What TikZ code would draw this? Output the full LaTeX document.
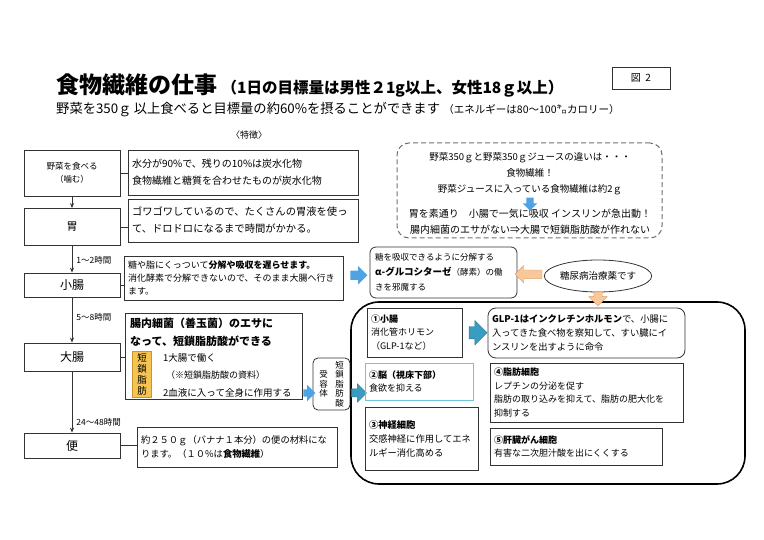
\documentclass[tikz,border=0pt]{standalone}
\usepackage{fontspec}
\setmainfont{Noto Sans CJK JP}
\usetikzlibrary{positioning,arrows.meta,calc,shapes.geometric,shapes.arrows}
\definecolor{boxline}{HTML}{333333}
\definecolor{skyarrow}{HTML}{4FA3E3}
\definecolor{tealarrow}{HTML}{3B9CC2}
\definecolor{tealline}{HTML}{2D7A98}
\definecolor{orangefill}{HTML}{F8C79A}
\definecolor{orangeline}{HTML}{E29A5D}
\definecolor{gold}{HTML}{F5C451}
\definecolor{goldline}{HTML}{C8962A}
\definecolor{brainline}{HTML}{6FC6DA}
\definecolor{dashline}{HTML}{707070}

\begin{document}
\begin{tikzpicture}[x=1pt,y=-1pt,
  box/.style={draw=boxline,line width=0.8pt,inner sep=0pt},
  stage/.style={box,minimum width=96pt,align=center},
  note/.style={box,align=left,inner xsep=4pt,inner ysep=0pt},
  flow/.style={draw=boxline,line width=0.8pt,-{Stealth[length=5pt,width=4pt]}},
  link/.style={draw=boxline,line width=0.8pt},
  time/.style={right,inner xsep=4pt,font=\fontsize{8.5}{8.5}\selectfont},
  fatarrow/.style={single arrow,inner xsep=0pt,inner ysep=4.5pt,single arrow head extend=4.5pt},
  small/.style={font=\fontsize{9}{13.5}\selectfont}]
\useasboundingbox (0,0) rectangle (764,540);
% Title
\node[anchor=west,inner sep=0pt,font=\bfseries\fontsize{23}{23}\selectfont] (title) at (56,85) {食物繊維の仕事};
\node[anchor=base west,inner sep=0pt,font=\bfseries\fontsize{15.5}{15.5}\selectfont] (titlenote) at ([xshift=4pt]title.base east) {（1日の目標量は男性２1g以上、女性18ｇ以上）};
\node[box,minimum width=58pt,minimum height=22pt,font=\fontsize{10}{10}\selectfont] (fig) at (641,78) {図\ \ 2};
\node[anchor=west,inner sep=0pt,font=\fontsize{13.3}{13.3}\selectfont] (sub) at (56,110) {野菜を350ｇ\,以上食べると目標量の約60\%を摂ることができます};
\node[anchor=base west,inner sep=0pt,font=\fontsize{10.5}{10.5}\selectfont] (subnote) at ([xshift=3pt]sub.base east) {（エネルギーは80～100㌔カロリー）};
\node[font=\fontsize{9}{9}\selectfont] (feature) at (249,135) {〈特徴〉};

% Digestion stages
\node[stage,minimum height=46pt,font=\fontsize{8.5}{12.5}\selectfont] (eat) at (72,173) {野菜を食べる\\（噛む）};
\node[stage,minimum height=37pt,font=\fontsize{11}{11}\selectfont] (stomach) at (72,227) {胃};
\node[stage,minimum height=24pt,font=\fontsize{12}{12}\selectfont] (smallint) at (72,285) {小腸};
\node[stage,minimum height=28pt,font=\fontsize{12}{12}\selectfont] (largeint) at (72,357) {大腸};
\node[stage,minimum height=25pt,font=\fontsize{12}{12}\selectfont] (stool) at (72,445.5) {便};
\draw[flow] (eat) -- (stomach);
\draw[flow] (stomach) -- node[time,pos=0.55] (t1) {1～2時間} (smallint);
\draw[flow] (smallint) -- node[time,pos=0.45] (t2) {5～8時間} (largeint);
\draw[flow] (largeint) -- node[time,pos=0.83] (t3) {24～48時間} (stool);

% Features
\node[note,text width=222pt,minimum height=45pt,font=\fontsize{10}{17}\selectfont] (feat) at (243,172.5)
  {水分が90\%で、残りの10\%は炭水化物\\食物繊維と糖質を合わせたものが炭水化物};
\node[note,text width=222pt,minimum height=43pt,font=\fontsize{10.3}{17}\selectfont] (gastric) at (243,220.5)
  {ゴワゴワしているので、たくさんの胃液を使っ\\て、ドロドロになるまで時間がかかる。};
\node[note,text width=211pt,minimum height=44pt,font=\fontsize{9}{13}\selectfont] (slow) at (233.5,278)
  {糖や脂にくっついて\textbf{分解や吸収を遅らせます。}\\消化酵素で分解できないので、そのまま大腸へ行き\\ます。};
\node[box,minimum width=177pt,minimum height=86pt] (colon) at (213.5,356) {};
\node[anchor=north west,align=left,inner sep=0pt,font=\bfseries\fontsize{11}{18}\selectfont] (colontitle) at (130,318)
  {腸内細菌（善玉菌）のエサに\\なって、短鎖脂肪酸ができる};
\node[draw=goldline,fill=gold,minimum width=19pt,minimum height=46pt,inner sep=0pt,align=center,
  font=\fontsize{9.5}{11}\selectfont] (scfa) at (142,374) {短\\鎖\\脂\\肪};
\node[anchor=west,inner sep=0pt,font=\fontsize{9.5}{9.5}\selectfont] (role1) at (163,358) {1大腸で働く};
\node[anchor=west,inner sep=0pt,font=\fontsize{9}{9}\selectfont] (role0) at (166,375) {（※短鎖脂肪酸の資料）};
\node[anchor=west,inner sep=0pt,font=\fontsize{9.5}{9.5}\selectfont] (role2) at (163,393) {2血液に入って全身に作用する};
\node[note,text width=192pt,minimum height=40pt,font=\fontsize{9.3}{14}\selectfont] (bulk) at (237,447)
  {約２５０ｇ（バナナ１本分）の便の材料にな\\ります。（１０\%は\textbf{食物繊維}）};
\draw[link] (eat.east) -- (eat.east -| feat.west);
\draw[link] (stomach.east) -- (stomach.east -| gastric.west);
\draw[link] (smallint.east) -- (smallint.east -| slow.west);
\draw[link] (largeint.east) -- (largeint.east -| colon.west);
\draw[link] (stool.east) -- (stool.east -| bulk.west);

% Juice comparison
\node[draw=dashline,dash pattern=on 5pt off 3pt,line width=1pt,rounded corners=12pt,minimum width=265pt,minimum height=95pt] (juice) at (529.5,190.5) {};
\node[align=center,inner sep=0pt,font=\fontsize{9.5}{16}\selectfont] (juicetop) at (530,174)
  {野菜350ｇと野菜350ｇジュースの違いは・・・\\食物繊維！\\野菜ジュースに入っている食物繊維は約2ｇ};
\node[align=center,inner sep=0pt,font=\fontsize{10}{16}\selectfont] (juicebot) at (530,222)
  {胃を素通り　小腸で一気に吸収 インスリンが急出動！\\腸内細菌のエサがない⇒大腸で短鎖脂肪酸が作れない};
\node[fatarrow,fill=skyarrow,rotate=-90,minimum height=13pt,inner ysep=3.5pt,single arrow head extend=3.5pt]
  (juicearrow) at ($(juicetop.south)!0.5!(juicebot.north)$) {};

% Medicine
\node[box,rounded corners=6pt,minimum width=147pt,minimum height=51pt] (sugar) at (443.5,272.5) {};
\node[anchor=west,align=left,inner sep=0pt,font=\fontsize{8.5}{15}\selectfont] (sugartext) at (375,272.5)
  {糖を吸収できるように分解する\\{\bfseries\fontsize{9.5}{15}\selectfont α-グルコシターゼ}（酵素）の働\\きを邪魔する};
\node[draw=boxline,line width=0.8pt,ellipse,minimum width=100pt,minimum height=32pt,inner sep=0pt,
  font=\fontsize{9.5}{9.5}\selectfont] (drug) at (598,276) {糖尿病治療薬です};
\node[fatarrow,fill=skyarrow,minimum height=17pt] (slowarrow) at ($(slow.east)!0.5!(sugar.west)$) {};
\node[fatarrow,fill=orangefill,draw=orangeline,shape border rotate=180,minimum height=27pt,inner ysep=4pt]
  (drugarrow) at ($(sugar.east)!0.5!(drug.west)$) {};

% Effects of short-chain fatty acids
\node[draw=black,line width=1.6pt,rounded corners=28pt,minimum width=394pt,minimum height=182pt] (effect) at (548,393) {};
\node[fatarrow,fill=orangefill,draw=orangeline,rotate=-90,minimum height=14pt,inner ysep=4pt,single arrow head extend=5pt]
  (downarrow) at ($(drug.south)!0.5!(drug.south |- effect.north)$) {};
\node[box,rounded corners=5pt,minimum width=37pt,minimum height=52pt] (recep) at (331.5,384) {};
\node[align=center,inner sep=0pt,font=\fontsize{8.5}{9.6}\selectfont] (recepR) at ([xshift=8pt]recep.center) {短\\鎖\\脂\\肪\\酸};
\node[align=center,inner sep=0pt,font=\fontsize{8.5}{9.6}\selectfont] (recepL) at ([xshift=-8pt]recep.center) {受\\容\\体};
\node[fatarrow,fill=skyarrow,minimum height=12pt,inner ysep=3.5pt] (colonarrow) at ($(colon.east |- role2)!0.5!(recep.west |- role2)$) {};
\coordinate (recout) at ($(recep.east |- role2)+(1,0)$);
\filldraw[fill=tealarrow,draw=tealline,line width=0.5pt] (recout) ++(0,-4) -- ++(6,0) -- ++(0,-5)
  -- ++(9,9) -- ++(-9,9) -- ++(0,-5) -- ++(-6,0) -- cycle;
\node[note,small,text width=87pt,minimum height=49pt] (gut) at (414.5,332.5)
  {\textbf{①小腸}\\消化管ホリモン\\（GLP-1など）};
\node[note,small,rounded corners=8pt,text width=189pt,minimum height=50pt,font=\fontsize{9.3}{14}\selectfont] (glp) at (586.5,333)
  {\textbf{GLP-1はインクレチンホルモン}で、小腸に\\入ってきた食べ物を察知して、すい臓にイ\\ンスリンを出すように命令};
\node[note,small,draw=brainline,text width=100pt,minimum height=37pt] (brain) at (419,381.5)
  {\textbf{②脳（視床下部）}\\食欲を抑える};
\node[note,small,text width=185pt,minimum height=59pt] (fat) at (586.5,392.5)
  {\textbf{④脂肪細胞}\\レプチンの分泌を促す\\脂肪の取り込みを抑えて、脂肪の肥大化を\\抑制する};
\node[note,small,text width=105pt,minimum height=63pt,font=\fontsize{9.3}{14}\selectfont] (nerve) at (421.5,438.5)
  {\textbf{③神経細胞}\\交感神経に作用してエネ\\ルギー消化高める};
\node[note,small,text width=164pt,minimum height=37pt] (liver) at (576,446.5)
  {\textbf{⑤肝臓がん細胞}\\有害な二次胆汁酸を出にくくする};
\node[fatarrow,fill=tealarrow,draw=tealline,minimum height=18pt,inner ysep=6pt,single arrow head extend=6pt]
  (gutarrow) at ($(gut.east)!0.5!(glp.west)$) {};
\end{tikzpicture}
\end{document}
